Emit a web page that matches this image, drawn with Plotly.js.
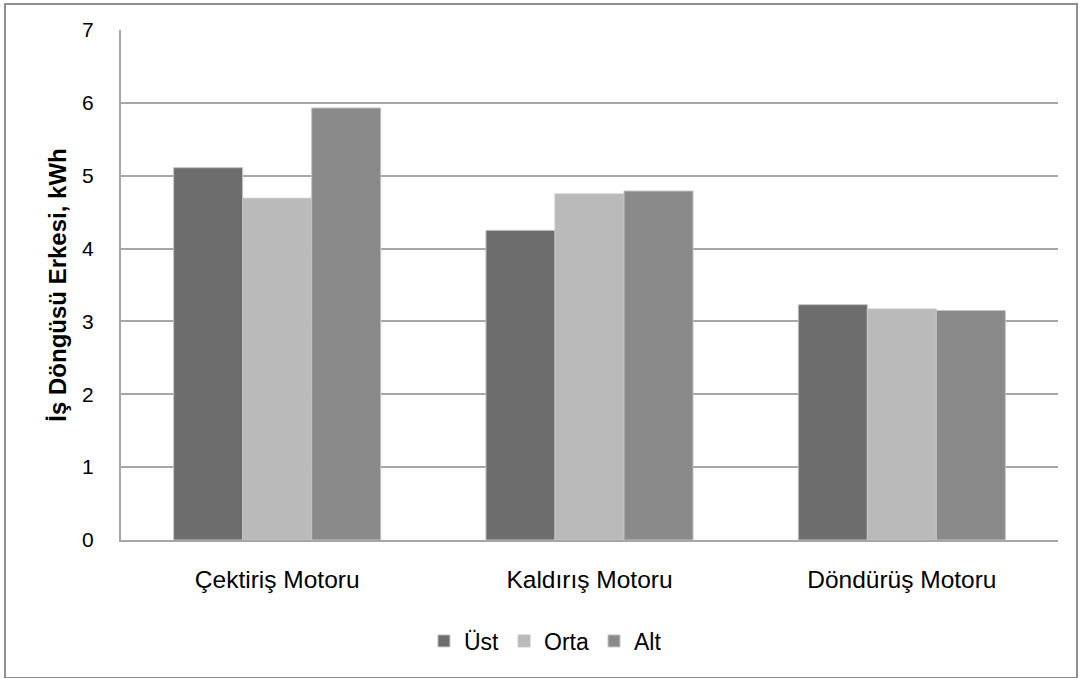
<!DOCTYPE html>
<html>
<head>
<meta charset="utf-8">
<script src="https://cdn.plot.ly/plotly-3.0.1.min.js"></script>
<style>
  html, body { margin: 0; padding: 0; background: #ffffff; }
  #wrap { position: relative; width: 1081px; height: 678px; }
  #chart { position: absolute; left: 0; top: 0; width: 1081px; height: 678px; }
  #frame { position: absolute; left: 4px; top: 3px; width: 1070px; height: 672px;
           border: 2px solid #8e8e8e; pointer-events: none; }
</style>
</head>
<body>
<div id="wrap">
  <div id="chart"></div>
  <div id="frame"></div>
</div>
<script>
// Motor categories and per-position energy per work cycle (kWh)
const categories = ['Çektiriş Motoru', 'Kaldırış Motoru', 'Döndürüş Motoru'];
const seriesNames = ['Üst', 'Orta', 'Alt'];
const ustValues  = [5.11, 4.25, 3.23];
const ortaValues = [4.69, 4.75, 3.17];
const altValues  = [5.93, 4.79, 3.15];
const yTicks = [0, 1, 2, 3, 4, 5, 6, 7];

const colors = ['#6d6d6d', '#bababa', '#8a8a8a'];
const values = [ustValues, ortaValues, altValues];

const traces = values.map((v, i) => ({
  type: 'bar',
  name: seriesNames[i],
  x: categories,
  y: v,
  marker: { color: colors[i], line: { color: '#c4c4c4', width: 1 } },
  hoverinfo: 'x+y+name'
}));

const layout = {
  width: 1081,
  height: 678,
  margin: { l: 121, r: 23, t: 30, b: 138 },
  paper_bgcolor: '#ffffff',
  plot_bgcolor: '#ffffff',
  barmode: 'group',
  bargap: 0.337,
  bargroupgap: 0,
  font: { family: 'Liberation Sans, Arial, sans-serif', color: '#000000' },
  showlegend: true,
  legend: {
    orientation: 'h',
    x: 0.453, xanchor: 'center',
    y: -0.198, yanchor: 'middle',
    font: { size: 23, color: '#000000' },
    itemwidth: 30,
    tracegroupgap: 0,
    traceorder: 'normal'
  },
  xaxis: {
    type: 'category',
    showgrid: false,
    showline: true,
    linecolor: '#a6a6a6',
    linewidth: 2,
    ticks: '',
    ticklabelstandoff: 17,
    tickfont: { size: 24.5, color: '#000000' },
    zeroline: false,
    fixedrange: true
  },
  yaxis: {
    range: [0, 7],
    tickvals: yTicks,
    ticktext: yTicks.map(String),
    showgrid: true,
    gridcolor: '#a6a6a6',
    gridwidth: 2,
    showline: true,
    linecolor: '#a6a6a6',
    linewidth: 2,
    ticks: '',
    ticklabelstandoff: 21,
    tickfont: { size: 21, color: '#000000' },
    zeroline: false,
    fixedrange: true,
    title: {
      text: 'İş Döngüsü Erkesi, kWh',
      font: { size: 24, color: '#000000', family: 'Liberation Sans, Arial, sans-serif', weight: 'bold' },
      standoff: 9
    }
  }
};

Plotly.newPlot('chart', traces, layout, { displayModeBar: false, staticPlot: true });
</script>
</body>
</html>
